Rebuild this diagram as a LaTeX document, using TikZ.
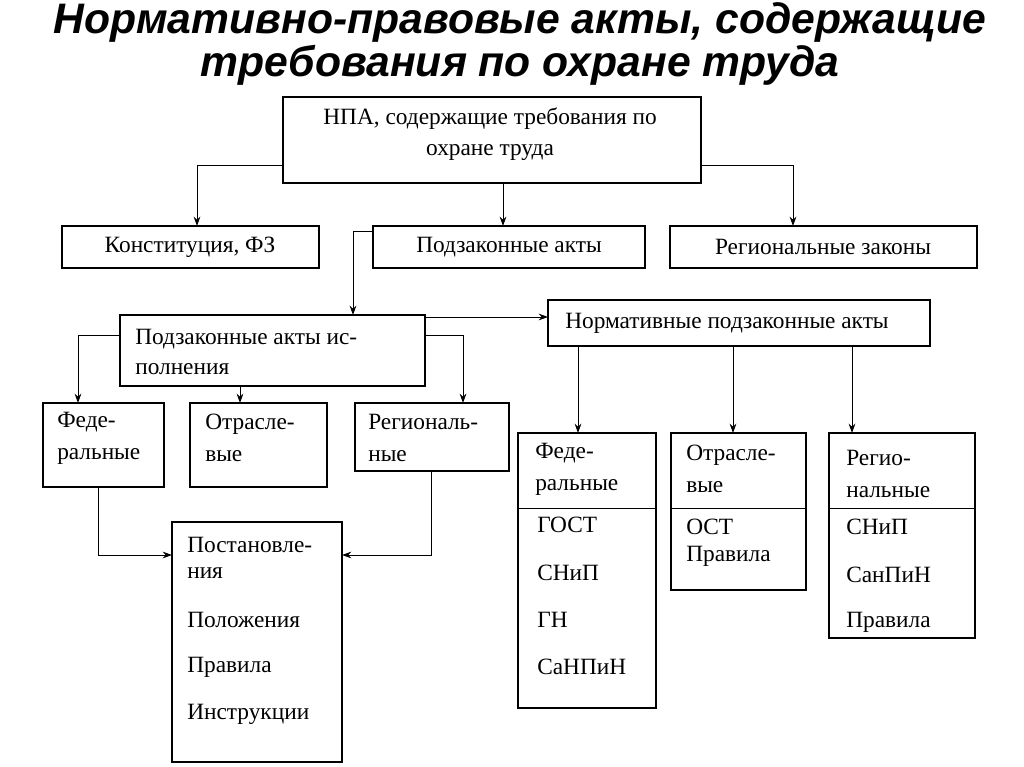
\documentclass[tikz,border=0pt]{standalone}
\usepackage{fontspec}
\setmainfont{Liberation Serif}
\newfontfamily\titlefont{Liberation Sans}
\usetikzlibrary{arrows.meta}
\begin{document}
\begin{tikzpicture}[x=0.75pt,y=-0.75pt,
  bx/.style={draw,line width=0.8pt},
  tx/.style={font=\fontsize{17.5}{24}\selectfont,anchor=west,align=left,inner sep=0pt},
  two/.style={font=\fontsize{17.5}{24}\selectfont},
  ar/.style={-{Stealth[length=7pt,width=5pt]},line width=0.7pt},
  ln/.style={line width=0.7pt}]
\useasboundingbox (0,0) rectangle (1024,767);
\node[font=\titlefont\bfseries\itshape\fontsize{32}{32}\selectfont,align=center] (title) at (520,44) {Нормативно-правовые акты, содержащие\\требования по охране труда};
% top
\draw[bx] (283,97) rectangle (701,183);
\node[font=\fontsize{17.5}{23}\selectfont,align=center] (top) at (490,134) {НПА, содержащие требования по\\охране труда};
\draw[bx] (62,226) rectangle (319,268);
\node[tx,anchor=center] (k) at (190,247) {Конституция, ФЗ};
\draw[bx] (373,226) rectangle (645,268);
\node[tx,anchor=center] (p) at (509,247) {Подзаконные акты};
\draw[bx] (670,226) rectangle (977,268);
\node[tx,anchor=center] (r) at (823,247) {Региональные законы};
\coordinate (tl) at (283,165); \coordinate (tr) at (701,165); \coordinate (tb) at (503,183);
\draw[ar] (tl) -| (197,226);
\draw[ar] (tr) -| (793,226);
\draw[ar] (tb) -- (503,226);
% исп
\draw[bx] (120,315) rectangle (425,386);
\node[tx,font=\fontsize{17.5}{23}\selectfont] (isp) at (135,352) {Подзаконные акты ис-\\полнения};
\draw[bx] (548,300) rectangle (930,346);
\node[tx] (norm) at (565,323) {Нормативные подзаконные акты};
\coordinate (pl) at (373,231);
\draw[ar] (pl) -| (353,315);
\draw[ar] (425,317) -- (548,317);
\draw[ar] (120,335) -| (78,403);
\draw[ar] (425,335) -| (463,403);
\draw[ar] (240,386) -- (240,403);
\draw[bx] (43,403) rectangle (164,487);
\node[tx,two] (f1) at (57,438) {Феде-\\ральные};
\draw[bx] (190,403) rectangle (327,487);
\node[tx,two] (o1) at (205,438) {Отрасле-\\вые};
\draw[bx] (355,403) rectangle (509,471);
\node[tx,two] (r1) at (368,438) {Региональ-\\ные};
\draw[bx] (172,522) rectangle (342,762);
\node[tx] (post1) at (187,545) {Постановле-};
\node[tx] (post2) at (187,573) {ния};
\node[tx] (post3) at (187,620) {Положения};
\node[tx] (post4) at (187,667) {Правила};
\node[tx] (post5) at (187,714) {Инструкции};
\draw[ar] (98,487) |- (172,555);
\draw[ar] (431,471) |- (342,555);
% right
\draw[ar] (578,346) -- (578,433);
\draw[ar] (733,346) -- (733,433);
\draw[ar] (852,346) -- (852,433);
\draw[bx] (518,433) rectangle (656,708); \draw[ln] (518,508) -- (656,508);
\node[tx,two] (f2) at (535,469) {Феде-\\ральные};
\node[tx] (g1) at (537,525) {ГОСТ};
\node[tx] (g2) at (537,573) {СНиП};
\node[tx] (g3) at (537,620) {ГН};
\node[tx] (g4) at (537,667) {СаНПиН};
\draw[bx] (671,433) rectangle (806,590); \draw[ln] (671,508) -- (806,508);
\node[tx,two] (o2) at (686,469) {Отрасле-\\вые};
\node[tx] (o2a) at (686,527) {ОСТ};
\node[tx] (o2b) at (686,556) {Правила};
\draw[bx] (829,433) rectangle (975,638); \draw[ln] (829,508) -- (975,508);
\node[tx,two] (r2) at (846,474) {Регио-\\нальные};
\node[tx] (r2a) at (846,527) {СНиП};
\node[tx] (r2b) at (846,575) {СанПиН};
\node[tx] (r2c) at (846,622) {Правила};
\end{tikzpicture}
\end{document}
